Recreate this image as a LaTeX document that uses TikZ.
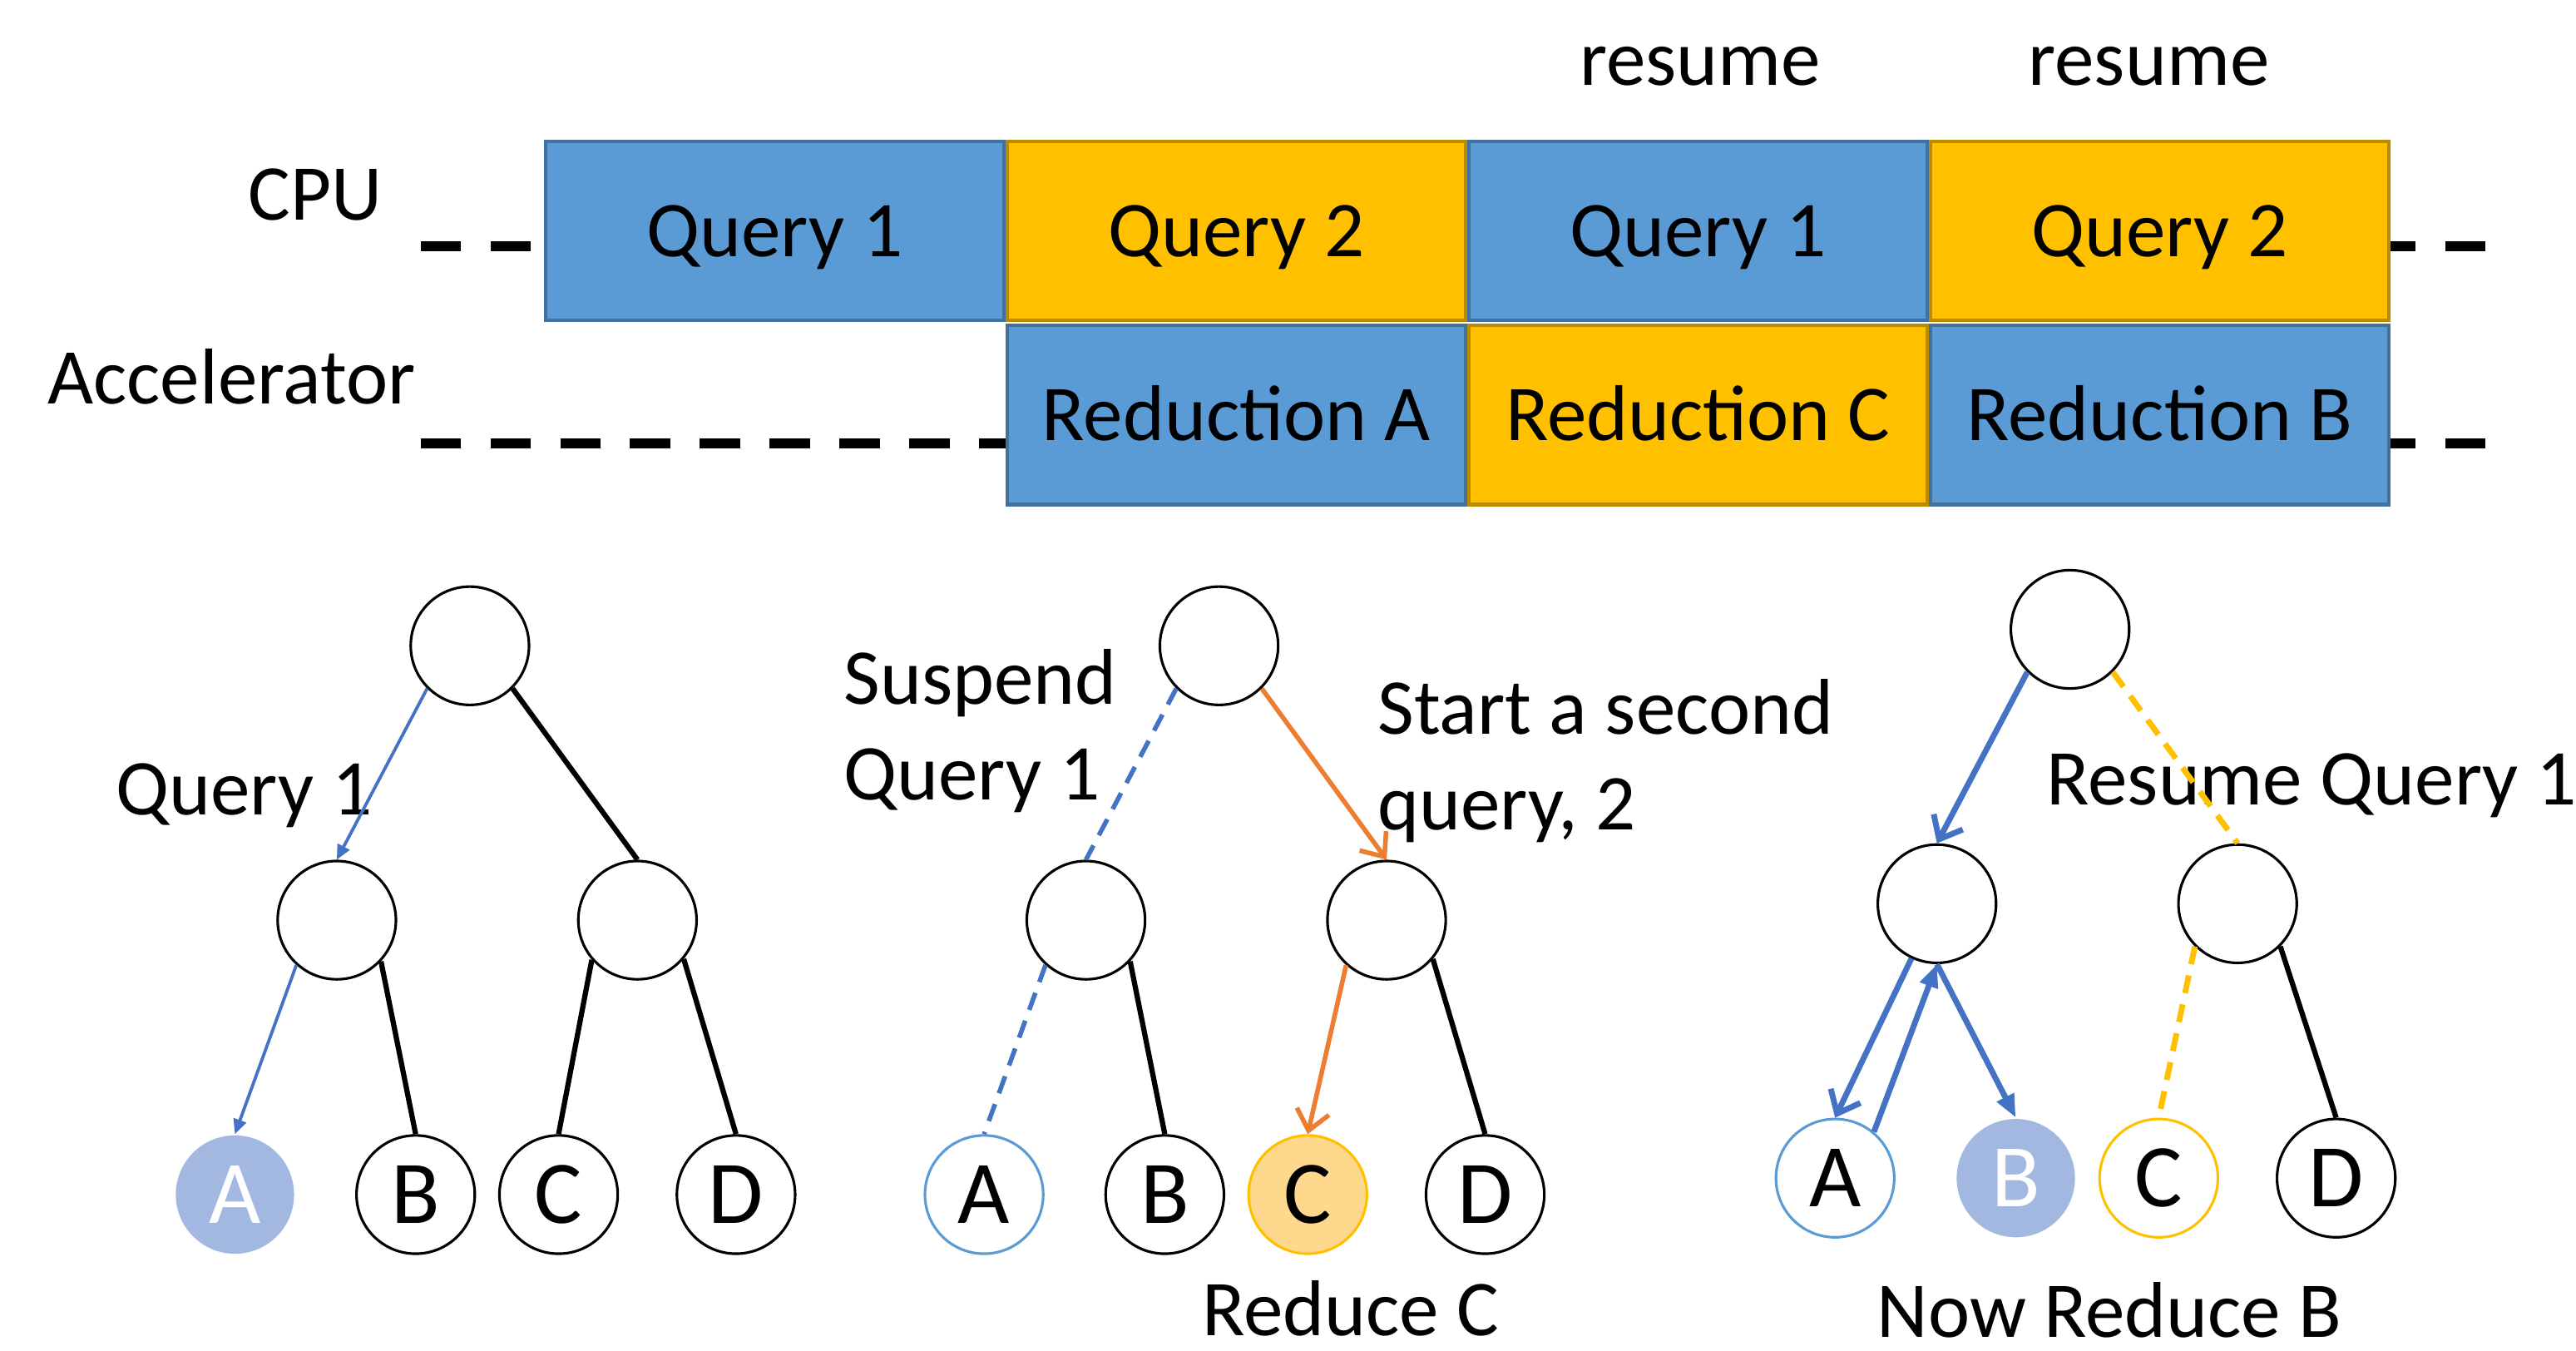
\documentclass[tikz,border=0pt]{standalone}
\usepackage{fontspec}
\setmainfont{Carlito}
\usetikzlibrary{arrows.meta}

\definecolor{qblue}{HTML}{5B9BD5}
\definecolor{qblueline}{HTML}{41719C}
\definecolor{qgold}{HTML}{FFC000}
\definecolor{qgoldline}{HTML}{BC8C00}
\definecolor{walk}{HTML}{4472C4}
\definecolor{walktwo}{HTML}{ED7D31}
\definecolor{solvedfill}{HTML}{A2B8E0}
\definecolor{reducefill}{HTML}{FDD88D}

\begin{document}
\begin{tikzpicture}[
    every node/.style={font=\fontsize{13.7}{16.6}\selectfont, inner sep=0pt},
    slot/.style={rectangle, minimum width=2.79cm, minimum height=1.09cm, anchor=north west,
                 text height=0.31cm, text depth=0pt, line width=0.6pt},
    track/.style={line width=1.7pt, dash pattern=on 0.245cm off 0.18cm},
    vtx/.style={circle, draw, line width=0.45pt, minimum size=0.72cm, font=\fontsize{15.5}{18}\selectfont},
    solved/.style={fill=solvedfill, draw=none, text=white},
    seen/.style={draw=qblue},
    reduced/.style={fill=reducefill, draw=qgold},
    pending/.style={draw=qgold},
    link/.style={line width=0.9pt},
    walkone/.style={draw=walk, line width=0.55pt, -{Triangle[length=0.09cm, width=0.08cm]}},
    walkalt/.style={draw=walktwo, line width=0.8pt, -{Straight Barb[length=0.12cm, width=0.2cm]}},
    walkback/.style={draw=walk, line width=1pt, -{Straight Barb[length=0.12cm, width=0.2cm]}},
    walkup/.style={draw=walk, line width=1pt, -{Triangle[length=0.14cm, width=0.11cm]}},
    paused/.style={draw=walk, line width=0.8pt, dash pattern=on 0.11cm off 0.07cm},
    later/.style={draw=qgold, line width=1pt, dash pattern=on 0.11cm off 0.07cm}
]
\useasboundingbox (0,0) rectangle (15.68,-8.22);

% timelines
\coordinate (cpuL) at (2.56,-1.50);
\coordinate (cpuR) at (15.15,-1.50);
\coordinate (accL) at (2.56,-2.70);
\coordinate (accR) at (15.15,-2.70);
\draw[track] (cpuL) -- (cpuR);
\draw[track] (accL) -- (accR);

\node[anchor=base] (cpu) at (1.92,-1.34) {CPU};
\node[anchor=base] (acc) at (1.41,-2.46) {Accelerator};
\node[anchor=base] (res1) at (10.35,-0.52) {resume};
\node[anchor=base] (res2) at (13.08,-0.52) {resume};

\foreach \i/\x/\f/\d/\txt in {1/3.31/qblue/qblueline/Query 1, 2/6.12/qgold/qgoldline/Query 2,
                              3/8.93/qblue/qblueline/Query 1, 4/11.74/qgold/qgoldline/Query 2} {
    \node[slot, fill=\f, draw=\d] (Q\i) at (\x,-0.85) {\txt};
}
\foreach \i/\x/\f/\d/\txt in {1/6.12/qblue/qblueline/Reduction A, 2/8.93/qgold/qgoldline/Reduction C,
                              3/11.74/qblue/qblueline/Reduction B} {
    \node[slot, fill=\f, draw=\d] (X\i) at (\x,-1.97) {\txt};
}

% trees
\foreach \t/\dx/\dy in {1/0/0, 2/4.56/0, 3/9.74/0.1} {
    \node[vtx] (R\t) at (2.86+\dx, -3.93+\dy) {};
    \node[vtx] (L\t) at (2.05+\dx, -5.60+\dy) {};
    \node[vtx] (M\t) at (3.88+\dx, -5.60+\dy) {};
}
\foreach \t/\dx/\dy/\sa/\sb/\sc in {1/0/0/solved/vtx/vtx, 2/4.56/0/seen/vtx/reduced, 3/9.74/0.1/seen/solved/pending} {
    \node[vtx, \sa] (A\t) at (1.43+\dx, -7.27+\dy) {A};
    \node[vtx, \sb] (B\t) at (2.53+\dx, -7.27+\dy) {B};
    \node[vtx, \sc] (C\t) at (3.40+\dx, -7.27+\dy) {C};
    \node[vtx] (D\t) at (4.48+\dx, -7.27+\dy) {D};
}

\node[anchor=base west] (lblone) at (0.70,-4.96) {Query 1};
\node[anchor=base west, align=left] (lblsus) at (5.13,-4.87) {Suspend\\Query 1};
\node[anchor=base west, align=left] (lblstart) at (8.38,-5.05) {Start a second\\query, 2};
\node[anchor=base] (lblredc) at (8.22,-8.13) {Reduce C};
\node[anchor=base west] (lblres) at (12.45,-4.90) {Resume Query 1};
\node[anchor=base] (lblredb) at (12.84,-8.14) {Now Reduce B};

\draw[walkone] (R1.225) -- (L1.north);
\draw[link] (R1.315) -- (M1.north);
\draw[walkone] (L1.228) -- (A1.north);
\draw[link] (L1.317) -- (B1.north);
\draw[link] (M1.221) -- (C1.north);
\draw[link] (M1.320) -- (D1.north);

\draw[paused] (R2.225) -- (L2.north);
\draw[walkalt] (R2.315) -- (M2.north);
\draw[paused] (L2.228) -- (A2.north);
\draw[link] (L2.317) -- (B2.north);
\draw[walkalt] (M2.228) -- (C2.north);
\draw[link] (M2.320) -- (D2.north);

\draw[walkback] (R3.225) -- (L3.north);
\draw[later] (R3.315) -- (M3.north);
\draw[walkback] (L3.245) -- (A3.north);
\draw[walkup] (A3.50) -- (L3.south);
\draw[walkup] (L3.south) -- (B3.north);
\draw[later] (M3.225) -- (C3.north);
\draw[link] (M3.315) -- (D3.north);

\end{tikzpicture}
\end{document}
